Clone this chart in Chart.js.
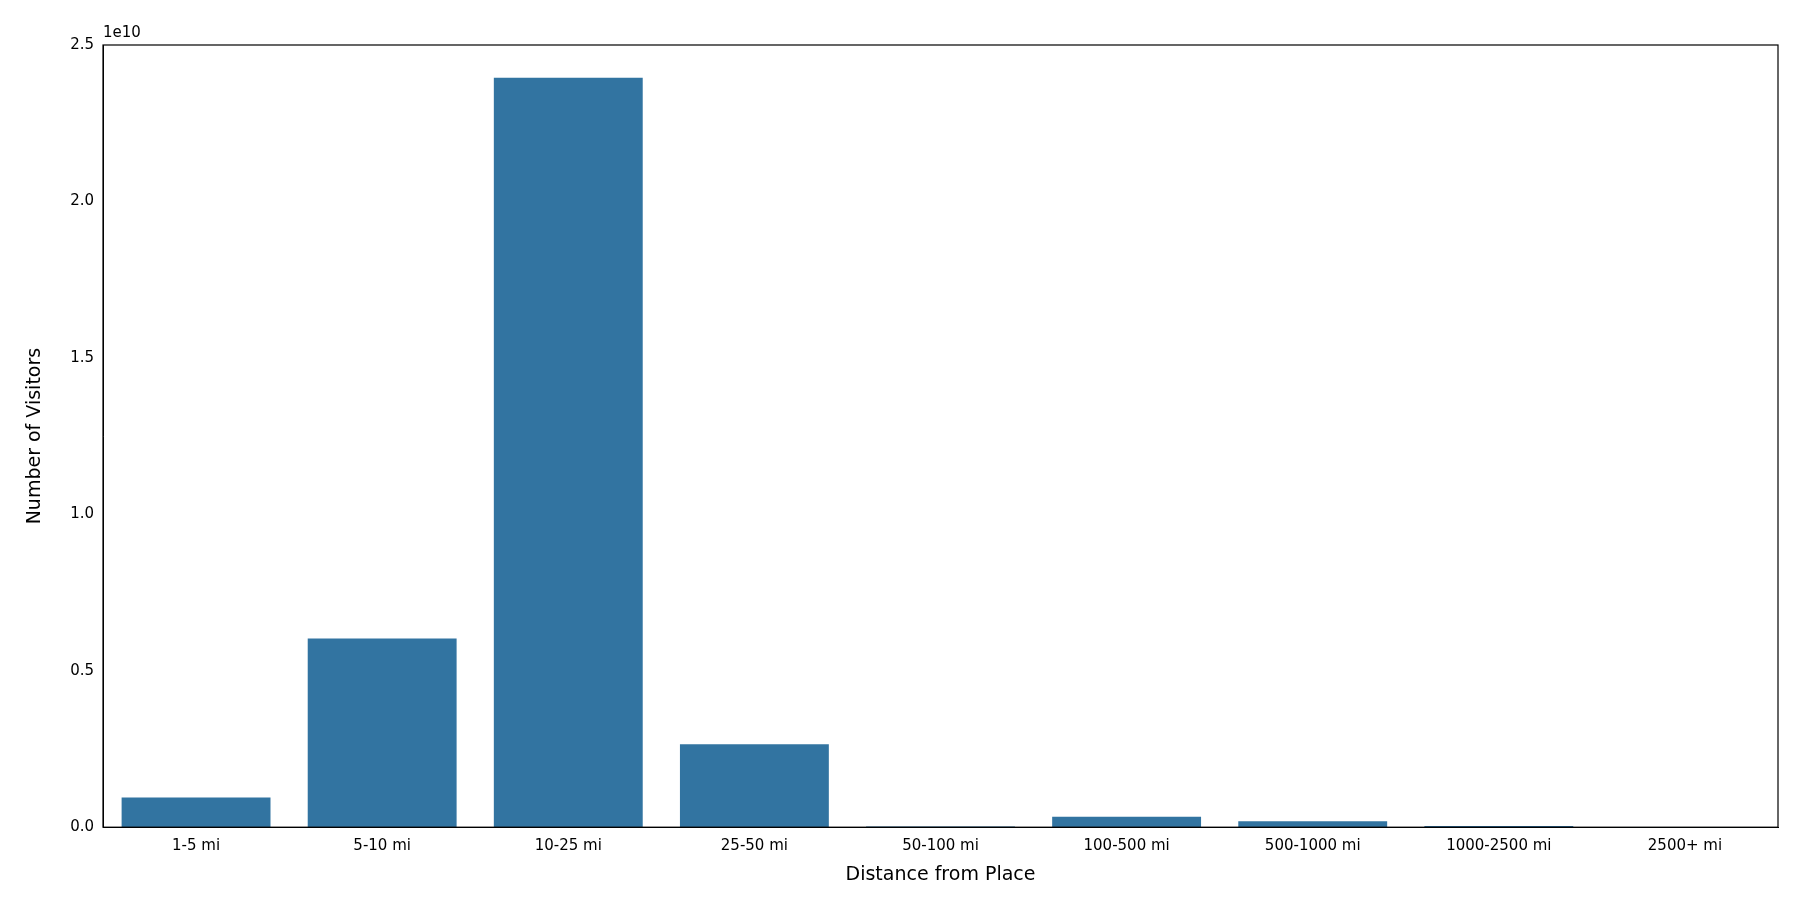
<!DOCTYPE html>
<html><head><meta charset="utf-8">
<script src="https://cdn.jsdelivr.net/npm/chart.js@4/dist/chart.umd.min.js"></script>
<style>html,body{margin:0;padding:0;background:#fff}#w{width:1800px;height:900px}</style>
</head><body><div id="w"><canvas id="c"></canvas></div>
<script>
const categories=["1-5 mi","5-10 mi","10-25 mi","25-50 mi","50-100 mi","100-500 mi","500-1000 mi","1000-2500 mi","2500+ mi"];
const visitors=[0.95e9,6.03e9,23.95e9,2.65e9,0.02e9,0.33e9,0.19e9,0.04e9,0.005e9];
const yTicks=[0,0.5e10,1.0e10,1.5e10,2.0e10,2.5e10];
const F="'DejaVu Sans'";
const frame={id:'frame',afterDraw(ch){const a=ch.chartArea,x=ch.ctx;x.save();x.strokeStyle='#000';x.lineWidth=1.2;x.strokeRect(a.left,a.top,a.right-a.left,a.bottom-a.top);x.fillStyle='#000';x.font='15px '+F;x.textBaseline='bottom';x.fillText('1e10',a.left,a.top-4);x.restore();}};
new Chart(document.getElementById('c'),{type:'bar',
data:{labels:categories,datasets:[{data:visitors,backgroundColor:'#3274a1',categoryPercentage:1,barPercentage:0.8}]},
options:{responsive:true,maintainAspectRatio:false,animation:false,
layout:{padding:{left:20,right:22,top:45,bottom:10}},
plugins:{legend:{display:false},tooltip:{enabled:false}},
scales:{
x:{grid:{display:false,drawTicks:true,tickLength:6,color:'#000'},border:{color:'#000'},ticks:{color:'#000',font:{family:F,size:15},padding:4},
title:{display:true,text:'Distance from Place',color:'#000',font:{family:F,size:19},padding:{top:4}}},
y:{min:0,max:2.5e10,afterFit(s){s.width=83;},afterBuildTicks(s){s.ticks=yTicks.map(v=>({value:v}));},
grid:{display:false,drawTicks:true,tickLength:6},border:{color:'#000'},
ticks:{color:'#000',font:{family:F,size:15},callback:v=>(v/1e10).toFixed(1)},
title:{display:true,text:'Number of Visitors',color:'#000',font:{family:F,size:19},padding:{bottom:6}}}}},
plugins:[frame]});
</script></body></html>
